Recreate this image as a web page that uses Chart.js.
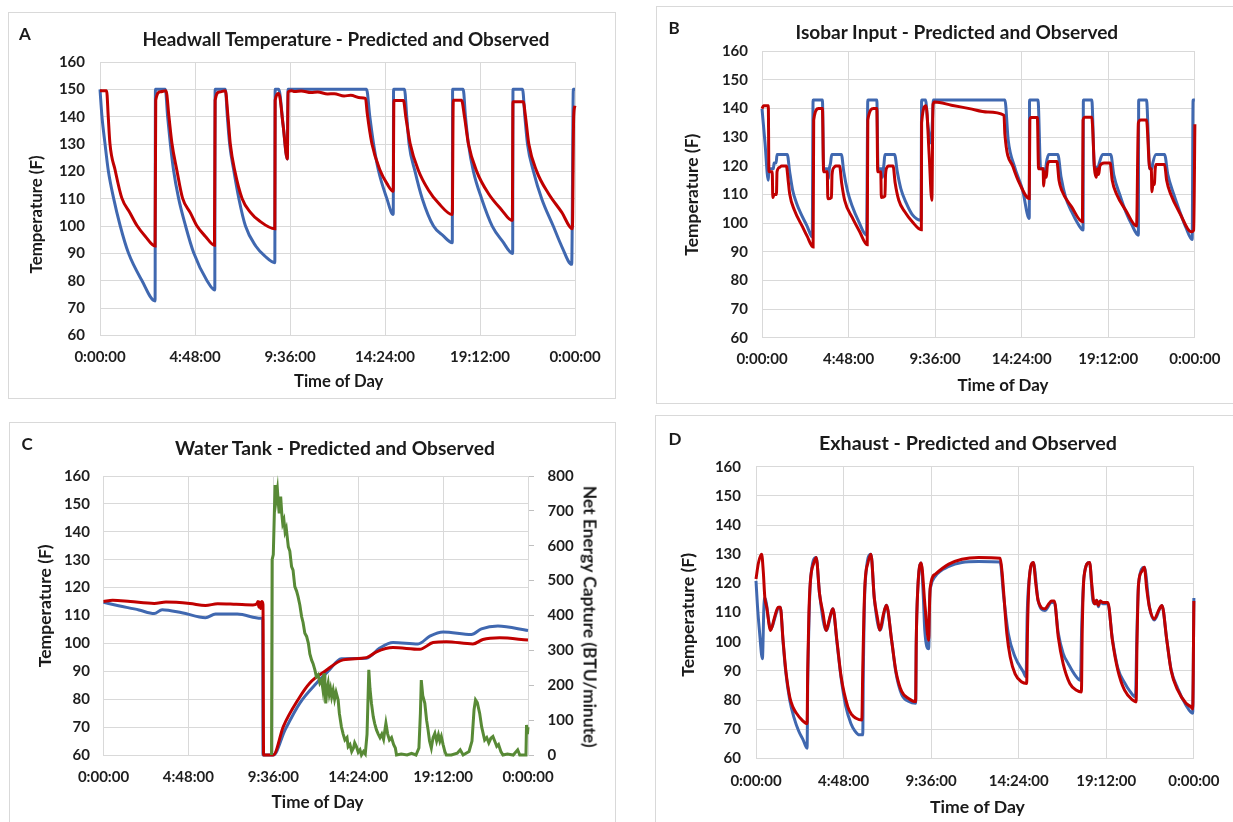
<!DOCTYPE html>
<html><head><meta charset="utf-8">
<script src="https://cdn.jsdelivr.net/npm/chart.js@4.4.1/dist/chart.umd.min.js"></script>
<style>
html,body{margin:0;padding:0;background:#fff;width:1233px;height:822px;overflow:hidden;position:relative;font-family:Lato,"Open Sans",sans-serif;}
.box{position:absolute;border:1px solid #d9d9d9;box-sizing:border-box;}
canvas{position:absolute;left:0;top:0;}
</style></head><body>
<script>
// ---------- DATA (minutes since midnight, value) ----------
const xTickLabels = ['0:00:00','4:48:00','9:36:00','14:24:00','19:12:00','0:00:00'];

const headwallPredicted = [[0,150],[6,140],[15,130.3],[25,120.4],[41,110.3],[61,100.2],[86,90.2],[127,80.1],[167,72.6],
 [168,150],[198,150],[205,140],[213,130.3],[223,120.4],[238,110.3],[259,100.2],[284,90.2],[324,80.1],[348,76.6],
 [349,150],[380,150],[386,140],[393,130],[406,120],[421,110],[441,100],[472,92.7],[500,89],[530,86.6],
 [531,150],[542,150],[555,137],[568,124.5],[570,150],[808,150],[818,140],[829,130.3],[844,120.4],[869,110.3],[889,104.2],
 [890,150],[923,150],[930,140],[937,130],[955,120],[977,110],[1011,100],[1040,96.5],[1068,93.9],
 [1069,150],[1101,150],[1108,140],[1117,130],[1132,120],[1157,110],[1189,100],[1220,94.5],[1251,90],
 [1252,150],[1281,150],[1288,140],[1296,130],[1314,120],[1339,110],[1374,100],[1400,92.5],[1430,86],
 [1435,150],[1440,150]];
const headwallObserved = [[0,149.5],[20,149.5],[25,140],[30,130.3],[46,120.4],[66,110.3],[91,104.8],[112,100.2],[137,96.3],[167,92.7],
 [169,146],[183,149.1],[200,149.5],[209,140],[218,130.3],[233,120.4],[250,110.3],[274,104.8],[294,100],[319,96.3],[347,93],
 [349,146],[362,149],[380,149.5],[388,140],[395,130],[409,120],[431,110],[456,105],[482,102],[530,99],
 [531,146],[542,148.5],[555,137],[568,124.5],[570,149],[580,149.5],[590,149.2],[610,149.4],[640,148.8],[660,149],[690,148.3],
 [710,148.4],[740,147.6],[760,147.8],[790,146.9],[805,146.7],
 [810,141.3],[824,130.3],[849,120.4],[870,115.5],[889,112.7],
 [891,145.9],[920,145.9],[927,140],[940,130.3],[965,120.4],[995,113.3],[1026,108.4],[1068,104.2],
 [1071,146],[1096,146],[1105,140],[1117,130],[1142,120],[1177,112],[1217,106],[1250,102],
 [1252,145.5],[1283,145.5],[1290,140],[1300,130],[1324,120],[1359,112],[1400,105],[1432,99],[1436,140],[1440,144]];

const isobarPredicted = [[0,140],[10,128],[21,115],[23,119],[38,119],[40,121],[47,121],[50,124],[84,124],[92,118],[102,111.5],[115,107],[129,103.4],[150,99],[167,95.2],
 [170,143],[201,143],[205,119],[218,119],[221,115.5],[224,119],[228,121],[232,124],[264,124],[272,118],[285,111],[300,106],[320,101],[348,95.8],
 [352,143],[382,143],[386,119],[398,119],[401,116],[404,119],[406,121],[409,124],[441,124],[450,118],[462,112],[480,107],[500,103],[529,101],
 [531,143],[544,143],[552,134],[563,128],[567,136],[570,143],[808,143],[819,129],[840,119.7],[867,111.5],[889,101.6],
 [890,143],[918,143],[927,119],[938,119],[942,117],[946,121],[954,124],[984,124],[995,116],[1010,109],[1030,104],[1050,100],[1068,97.6],
 [1069,143],[1097,143],[1106,119.5],[1118,119.5],[1122,121],[1133,124],[1160,124],[1170,117],[1190,110],[1210,104],[1230,99.5],[1252,95.8],
 [1253,143],[1279,143],[1290,119],[1297,119],[1300,121],[1311,124],[1339,124],[1350,117],[1370,110],[1390,104],[1410,98.5],[1431,94.3],
 [1434,143],[1440,143]];
const isobarObserved = [[0,140],[5,141],[21,141],[23,118],[34,118],[36,109],[40,110],[48,110],[50,118],[59,119.5],[65,120],[81,120],[87,115],[92,110.3],[108,104.5],[135,98.7],[150,95.5],[170,91.7],
 [172,136],[188,140],[201,140],[205,118],[217,118],[219,108.5],[231,109],[233,117],[240,119.5],[245,120],[258,120],[265,114],[275,108],[300,102],[325,97],[350,92.5],
 [352,136],[371,140],[382,140],[385,118],[395,118],[397,109],[409,109.5],[411,117],[416,119.5],[420,120],[436,120],[443,114],[455,108],[475,104],[500,100.5],[530,97.7],
 [531,135],[546,141],[556,124],[565,108],[569,141.5],[575,142.3],[630,141.2],[690,140],[750,138.8],[805,137.7],[808,131],[835,119.7],[857,113.8],[889,108.6],
 [891,136],[895,136.9],[916,136.9],[920,119],[935,119],[937,113],[940,117],[943,118],[946,116],[949,120],[956,121.5],[981,121.5],[988,115],[997,111.5],[1030,105.7],[1066,100.5],
 [1068,136],[1075,137],[1097,137],[1106,119],[1112,116],[1115,119],[1120,117],[1124,120],[1138,121],[1158,121],[1165,115],[1180,110],[1210,104.5],[1246,99],
 [1252,135],[1260,136],[1279,136],[1290,119],[1295,119],[1297,111],[1301,114],[1305,113.5],[1308,119],[1311,120.5],[1339,120.5],[1346,115],[1360,110],[1390,103.5],[1428,97],[1436,97.5],[1440,134.5]];

const tankPredicted = [[0,114.7],[51,113.5],[120,112],[172,110.7],[199,112.1],[266,111],[346,109.2],[380,110.5],[454,110.5],[534,109],[540,109],[541,60],[576,60],
 [616,69],[666,78.6],[723,85.8],[762,90],[807,94.5],[892,94.7],[937,98.3],[982,100.3],[1067,99.8],[1107,102.6],[1152,104.1],[1248,103.2],[1282,105.2],[1338,106.2],[1440,104.6]];
const tankObserved = [[0,115],[31,115.5],[91,115],[172,114.3],[212,114.8],[293,114.3],[346,113.6],[387,114.2],[450,114],[507,113.8],[520,114.2],[524,115],[527,113],[530,114.8],[533,112.5],[537,115],[541,114],[543,60],[576,60],
 [610,70.2],[661,80],[700,85.8],[751,90],[813,94.1],[892,94.9],[926,97],[982,98.5],[1073,97.9],[1118,100.3],[1163,100.6],[1253,99.8],[1287,101.4],[1344,102],[1440,101.2]];
const tankEnergy = [[570,0],[572,560],[576,575],[582,774],[586,735],[590,760],[593,722],[596,693],[601,741],[605,690],[608,664],[612,674],[616,640],[620,650],[627,597],[632,585],[638,540],[643,530],[649,483],[655,470],[660,454],[666,430],[672,397],[677,380],[683,349],[689,340],[695,320],[700,290],[706,272],[711,262],[717,244],[722,225],[728,230],[734,206],[740,215],[744,190],[748,234],[751,200],[754,148],[758,190],[762,206],[766,175],[770,190],[774,167],[779,186],[784,160],[789,180],[796,158],[800,120],[807,81],[813,60],[819,43],[826,50],[830,24],[836,30],[842,10],[848,20],[852,35],[858,24],[864,8],[870,15],[875,0],[882,10],[888,3],[894,60],[900,244],[904,190],[909,148],[915,110],[920,90],[926,72],[932,60],[938,50],[944,60],[950,45],[958,91],[964,60],[970,43],[977,50],[984,30],[990,20],[994,0],[1010,3],[1030,0],[1045,5],[1060,0],[1070,20],[1075,120],[1078,215],[1083,170],[1090,148],[1096,100],[1101,72],[1106,40],[1112,20],[1118,50],[1124,62],[1130,40],[1136,58],[1141,40],[1146,53],[1152,30],[1158,10],[1163,0],[1180,0],[1200,5],[1210,15],[1220,0],[1240,10],[1250,40],[1257,130],[1262,158],[1268,150],[1276,120],[1283,80],[1293,43],[1300,50],[1307,35],[1314,48],[1321,53],[1328,38],[1334,25],[1340,30],[1348,10],[1355,0],[1370,3],[1390,0],[1405,15],[1412,0],[1433,0],[1435,86],[1438,60],[1440,80]];

const exhaustPredicted = [[0,120.9],[5,112],[12,103],[21,94.2],[26,112],[29,115],[48,104.5],[73,111.5],[80,111.8],[89,100],[98,89.5],[111,80],[125,74],[140,69.5],[155,66.4],[168,63.5],
 [170,85],[175,110],[179,120.9],[198,128.9],[209,116.4],[231,103.9],[253,111.3],[266,100],[280,87.5],[295,78],[312,72],[325,69.5],[340,68.1],[351,68.1],
 [353,90],[359,120],[378,130],[389,115],[408,104],[429,112.5],[446,100.5],[460,89.5],[479,82],[503,79.5],[525,78.9],
 [527,100],[532,118],[543,127],[550,116],[555,104],[568,97.6],[571,115],[575,119],[590,122.5],[634,125.8],[677,127.2],[732,127.5],[803,127.3],
 [814,116],[830,102.7],[852,94.8],[879,89.7],[888,88],
 [892,110],[899,122],[912,127.2],[928,114],[950,110.7],[972,113.5],[981,113.5],[994,103],[1010,96],[1027,92.5],[1050,88.5],[1067,86.8],
 [1071,105],[1079,122.6],[1097,127.2],[1108,114],[1115,113],[1120,114.2],[1126,112],[1132,114],[1140,113],[1157,113],[1172,101],[1190,91],[1212,86],[1230,83],[1248,81.1],
 [1252,100],[1258,119.8],[1277,125.5],[1294,111.8],[1310,107.5],[1335,112.4],[1351,100.5],[1365,90.5],[1387,84],[1414,78.3],[1436,75.5],[1440,115]];
const exhaustObserved = [[0,121.5],[8,127],[18.5,130],[24,124],[29,115.2],[35,112],[48,103.9],[60,108],[73,111.8],[80,111.8],[89,100.5],[98,90.2],[111,81.1],[122,77.5],[133,75.5],[150,73.3],[168,72],
 [170,90],[174,110],[179,120.9],[190,127],[198,128.9],[209,116.4],[220,110],[231,103.9],[242,108],[253,111.3],[266,100.5],[280,88],[302,77.7],[315,75],[329,73.8],[348,73.2],
 [351,90],[355,110],[359,120.9],[368,127],[378,130],[389,115],[398,109],[408,104],[418,109],[429,112.5],[446,100.5],[460,90],[479,83],[503,80.5],[525,79.5],
 [527,100],[532,118],[543,127],[556,112],[568,100.5],[570,110],[573,118.6],[590,123.2],[634,126.6],[677,128.3],[732,128.9],[803,128.6],
 [809,124],[814,117.5],[825,102.7],[836,94.8],[852,89],[874,86.2],[890,85.7],
 [893,105],[899,122],[912,127.2],[920,120],[928,114],[950,111.3],[963,113],[972,114],[981,114],[994,101.6],[1010,92.5],[1032,85.7],[1054,83.4],[1070,82.8],
 [1073,105],[1079,122.6],[1097,127.2],[1104,120],[1110,114],[1115,113],[1120,114.2],[1126,112.5],[1132,114],[1140,113.5],[1157,113.5],[1172,100.5],[1190,90.2],[1212,83.4],[1239,80],[1250,79.4],
 [1253,100],[1258,119.8],[1268,124],[1277,125.5],[1285,118],[1294,111.8],[1310,107.8],[1325,111],[1335,112.4],[1351,100.5],[1365,90.2],[1387,83.4],[1414,78.9],[1430,77.7],[1436,77],[1440,114]];

// ---------- STYLE / LAYOUT ----------
const BLUE = '#4068b0', RED = '#c00000', GREEN = '#588a36', GRID = '#d9d9d9';
const W = 1233, H = 822;
const TICK_FONT = {family: 'Lato, "Open Sans", sans-serif', weight: 'bold', size: 15};
Chart.defaults.font.family = 'Lato, "Open Sans", sans-serif';
Chart.defaults.font.weight = 'bold';
Chart.defaults.font.size = 15;
Chart.defaults.color = '#1e1e1e';

const xy = a => a.map(([x, y]) => ({x, y}));

function addText(text, cx, cy, width, rot, size) {
  const d = document.createElement('div');
  d.textContent = text;
  d.style.cssText = `position:absolute;left:0;top:0;white-space:nowrap;font-family:Lato,"Open Sans",sans-serif;font-weight:bold;font-size:${size}px;line-height:1;color:#1a1a1a;`;
  document.body.appendChild(d);
  if (width) {
    const w = d.getBoundingClientRect().width;
    d.style.fontSize = (size * width / w) + 'px';
  }
  const ww = d.offsetWidth, hh = d.offsetHeight;
  d.style.left = (cx - ww / 2) + 'px';
  d.style.top = (cy - hh / 2) + 'px';
  if (rot) d.style.transform = `rotate(${rot}deg)`;
}

function addBox(l, t, w, h) {
  const b = document.createElement('div');
  b.className = 'box';
  b.style.left = l + 'px'; b.style.top = t + 'px'; b.style.width = w + 'px'; b.style.height = h + 'px';
  document.body.appendChild(b);
}

function lineDs(data, color, extra) {
  return Object.assign({data: xy(data), borderColor: color, borderWidth: 3, pointRadius: 0,
    cubicInterpolationMode: 'monotone', fill: false, clip: 6}, extra || {});
}

function makeChart(p) {
  const c = document.createElement('canvas');
  c.width = W; c.height = H;
  c.style.width = W + 'px'; c.style.height = H + 'px';
  document.body.appendChild(c);
  const scales = {
    x: {type: 'linear', min: 0, max: 1440,
      ticks: {stepSize: 288, autoSkip: false, maxRotation: 0, padding: p.xPad, font: TICK_FONT, callback: (v, i) => xTickLabels[i]},
      grid: {color: GRID, lineWidth: 1, drawTicks: false}, border: {color: GRID},
      afterFit: s => { s.height = 30; }},
    y: {min: 60, max: 160, ticks: {stepSize: 10, padding: p.yPad, font: TICK_FONT},
      grid: {color: GRID, lineWidth: 1, drawTicks: false}, border: {color: GRID},
      afterFit: s => { s.width = 44; }}
  };
  if (p.y1) {
    scales.y1 = {position: 'right', min: 0, max: 800, ticks: {stepSize: 100, padding: p.y1Pad, font: TICK_FONT},
      grid: {drawOnChartArea: false, drawTicks: true, tickLength: 6, color: '#bfbfbf'}, border: {color: GRID},
      afterFit: s => { s.width = 56; }};
  }
  const padding = {left: p.l - 44, top: p.t - 8, right: W - p.r - 30, bottom: H - p.b - 30};
  const chart = new Chart(c.getContext('2d'), {
    type: 'line',
    data: {datasets: p.datasets},
    options: {responsive: false, maintainAspectRatio: false, animation: false,
      layout: {padding},
      plugins: {legend: {display: false}, tooltip: {enabled: false}, title: {display: false}},
      scales}
  });
  const ca = chart.chartArea;
  padding.left += p.l - ca.left;
  padding.top += p.t - ca.top;
  padding.right += ca.right - p.r;
  padding.bottom += ca.bottom - p.b;
  chart.options.layout.padding = padding;
  chart.update('none');
  return chart;
}

// Panel borders
addBox(8, 12, 608, 387);
addBox(656, 6, 600, 398);
addBox(9, 422, 607, 420);
addBox(655, 415, 600, 420);

// Panel A
makeChart({l: 100, t: 62, r: 575, b: 335.4, xPad: 12.5, yPad: 15,
  datasets: [lineDs(headwallObserved, RED), lineDs(headwallPredicted, BLUE)]});
// Panel B
makeChart({l: 762, t: 51.3, r: 1207.7, b: 337.8, xPad: 12.5, yPad: 14,
  datasets: [lineDs(isobarObserved, RED), lineDs(isobarPredicted, BLUE)]});
// Panel C
makeChart({l: 103.5, t: 476, r: 528, b: 755, xPad: 13.5, yPad: 13.5, y1: true, y1Pad: 13.5,
  datasets: [lineDs(tankEnergy, GREEN, {yAxisID: 'y1', cubicInterpolationMode: 'default', tension: 0, borderWidth: 3}),
             lineDs(tankObserved, RED), lineDs(tankPredicted, BLUE)]});
// Panel D
makeChart({l: 756, t: 466.7, r: 1196, b: 758.5, xPad: 13.5, yPad: 15,
  datasets: [lineDs(exhaustObserved, RED), lineDs(exhaustPredicted, BLUE)]});

// Letters
addText('A', 25, 33, 0, 0, 17);
addText('B', 674, 27, 0, 0, 17);
addText('C', 27, 443, 0, 0, 17);
addText('D', 675, 438.5, 0, 0, 17);
// Titles
addText('Headwall Temperature - Predicted and Observed', 346, 39, 407, 0, 18);
addText('Isobar Input - Predicted and Observed', 957, 31, 323, 0, 18);
addText('Water Tank - Predicted and Observed', 335, 447, 320, 0, 18);
addText('Exhaust - Predicted and Observed', 968, 443.3, 298, 0, 18);
// X axis titles
addText('Time of Day', 338.5, 381, 89.5, 0, 16);
addText('Time of Day', 1003, 385, 91, 0, 16);
addText('Time of Day', 317.6, 801.7, 92, 0, 16);
addText('Time of Day', 977.5, 806.7, 95, 0, 16);
// Y axis titles
addText('Temperature (F)', 36, 214, 118, -90, 16);
addText('Temperature (F)', 692, 194, 122, -90, 16);
addText('Temperature (F)', 44, 606, 123, -90, 16);
addText('Temperature (F)', 687.5, 615, 124, -90, 16);
addText('Net Energy Capture (BTU/minute)', 590, 616, 262, 90, 16);
</script>
</body></html>
